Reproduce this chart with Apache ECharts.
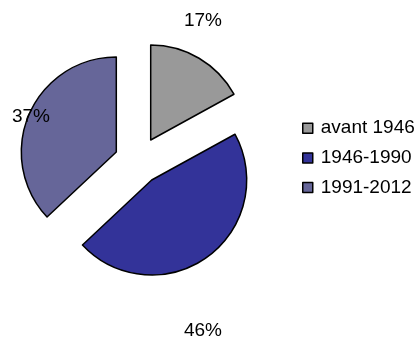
<!DOCTYPE html>
<html>
<head>
<meta charset="utf-8">
<script src="https://cdn.jsdelivr.net/npm/echarts@6/dist/echarts.min.js"></script>
<style>
  html, body { margin: 0; padding: 0; background: #ffffff; }
  #chart { width: 417px; height: 338px; }
</style>
</head>
<body>
<div id="chart"></div>
<script>
// Share of buildings by construction period (percent)
const categories = ['avant 1946', '1946-1990', '1991-2012'];
const shares = [17, 46, 37];

// Slice fills
const sliceColors = ['#999999', '#333399', '#666699'];

// Exploded layout: each slice gets its own pie centre (apex of the wedge)
const sliceCenters = [[150.7, 140], [151.7, 180], [116.3, 152]];
// Where each percentage label sits
const labelSpots = [[203, 21], [203, 331], [31, 117]];

const FONT = '"Liberation Sans", Arial, sans-serif';
const RADIUS = 95;

// One pie series per slice; all share the same data so angles stay consistent,
// only the slice belonging to the series is painted.
const series = categories.map(function (_, s) {
  return {
    type: 'pie',
    center: sliceCenters[s],
    radius: [0, RADIUS],
    startAngle: 90,
    clockwise: true,
    silent: true,
    animation: false,
    avoidLabelOverlap: false,
    emphasis: { disabled: true },
    labelLine: { show: false },
    labelLayout: function (p) {
      const spot = labelSpots[p.dataIndex];
      return { x: spot[0], y: spot[1], align: 'center', verticalAlign: 'middle' };
    },
    data: categories.map(function (name, i) {
      const own = i === s;
      return {
        name: name,
        value: shares[i],
        itemStyle: own
          ? { color: sliceColors[i], borderColor: '#000000', borderWidth: 1.5 }
          : { color: 'rgba(0,0,0,0)', borderWidth: 0 },
        label: {
          show: own,
          position: 'outside',
          formatter: function (p) { return p.value + '%'; },
          color: '#000000',
          fontFamily: FONT,
          fontSize: 19
        }
      };
    })
  };
});

const chart = echarts.init(document.getElementById('chart'), null, { renderer: 'canvas' });
chart.setOption({
  backgroundColor: '#ffffff',
  animation: false,
  legend: {
    orient: 'vertical',
    left: 297,
    top: 113.2,
    padding: 5,
    itemWidth: 10,
    itemHeight: 10,
    itemGap: 9.7,
    selectedMode: false,
    icon: 'rect',
    textStyle: {
      fontFamily: FONT,
      fontSize: 19,
      lineHeight: 20,
      color: '#000000',
      padding: [0, 0, 0, 3]
    },
    data: categories.map(function (name, i) {
      return {
        name: name,
        itemStyle: { color: sliceColors[i], borderColor: '#000000', borderWidth: 1.5 }
      };
    })
  },
  series: series
});
</script>
</body>
</html>
